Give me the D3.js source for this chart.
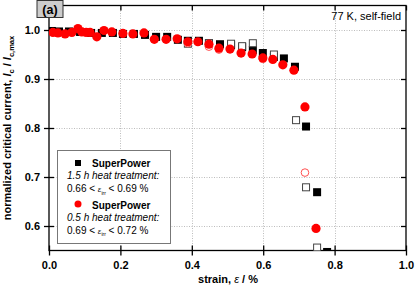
<!DOCTYPE html>
<html><head><meta charset="utf-8">
<script src="https://cdn.jsdelivr.net/npm/d3@7"></script>
<style>body{margin:0;background:#fff}svg{display:block;font-family:"Liberation Sans",Arial,sans-serif}</style>
</head><body>
<script>
// ---- data ----
const xTicks = [0.0, 0.2, 0.4, 0.6, 0.8, 1.0];
const yTicks = [0.6, 0.7, 0.8, 0.9, 1.0];
// 1.5 h heat treatment, filled black squares
const sq1Strain = [0.008,0.028,0.056,0.087,0.118,0.148,0.179,0.207,0.238,0.269,0.300,0.331,0.361,0.389,0.420,0.448,0.479,0.510,0.541,0.571,0.599,0.630,0.658,0.689,0.720,0.751,0.779];
const sq1Ic     = [0.998,0.997,0.997,0.996,0.994,0.994,0.994,0.992,0.992,0.990,0.986,0.986,0.980,0.978,0.978,0.973,0.971,0.969,0.965,0.959,0.953,0.945,0.942,0.925,0.803,0.669,0.547];
// 1.5 h heat treatment, open squares
const sq2Strain = [0.389,0.448,0.510,0.541,0.571,0.630,0.692,0.720,0.751];
const sq2Ic     = [0.972,0.973,0.972,0.967,0.973,0.950,0.816,0.679,0.556];
// 0.5 h heat treatment, filled red circles
const c1Strain = [0.011,0.025,0.045,0.064,0.081,0.092,0.104,0.115,0.134,0.154,0.176,0.207,0.235,0.266,0.295,0.328,0.359,0.389,0.417,0.448,0.476,0.507,0.538,0.569,0.599,0.627,0.655,0.686,0.717,0.748];
const c1Ic     = [0.995,0.994,0.992,0.995,1.003,0.996,0.995,0.995,0.986,0.999,0.996,0.993,0.992,0.994,0.981,0.981,0.982,0.976,0.976,0.971,0.963,0.961,0.953,0.951,0.943,0.940,0.929,0.918,0.843,0.595];
// 0.5 h heat treatment, open red circles
const c2Strain = [0.389,0.448,0.476,0.599,0.717];
const c2Ic     = [0.973,0.966,0.960,0.941,0.709];

const W = 415, H = 290;
const svg = d3.select("body").append("svg").attr("width", W).attr("height", H);
const x = d3.scaleLinear().domain([0, 1]).range([49, 406]);
const y = d3.scaleLinear().domain([0.55, 1.05]).range([250.5, 5.5]);

svg.append("defs").append("clipPath").attr("id","clip")
  .append("rect").attr("x", x(0)).attr("y", y(1.05)).attr("width", x(1)-x(0)).attr("height", y(0.55)-y(1.05));

// grid
const grid = svg.append("g").attr("stroke","#bdbdbd").attr("stroke-width",1).attr("stroke-dasharray","1,1.5");
grid.selectAll(".gx").data(xTicks.filter(d=>d>0&&d<1)).join("line")
  .attr("x1",d=>Math.round(x(d))+0.5).attr("x2",d=>Math.round(x(d))+0.5).attr("y1",y(1.05)).attr("y2",y(0.55));
grid.selectAll(".gy").data(yTicks).join("line")
  .attr("y1",d=>Math.round(y(d))+0.5).attr("y2",d=>Math.round(y(d))+0.5).attr("x1",x(0)).attr("x2",x(1));

// axes
const fmt = d3.format(".1f");
const axB = svg.append("g").attr("transform",`translate(0,${y(0.55)})`)
  .call(d3.axisBottom(x).tickValues(xTicks).tickFormat(fmt).tickSizeInner(5).tickSizeOuter(0).tickPadding(6));
const axL = svg.append("g").attr("transform",`translate(${x(0)},0)`)
  .call(d3.axisLeft(y).tickValues(yTicks).tickFormat(fmt).tickSizeInner(5).tickSizeOuter(0).tickPadding(4));
const axT = svg.append("g").attr("transform",`translate(0,${y(1.05)})`)
  .call(d3.axisBottom(x).tickValues(xTicks).tickFormat("").tickSizeInner(5).tickSizeOuter(0));
const axR = svg.append("g").attr("transform",`translate(${x(1)},0)`)
  .call(d3.axisLeft(y).tickValues(yTicks).tickFormat("").tickSizeInner(5).tickSizeOuter(0));
// inner part of bottom/left ticks
axB.selectAll(".tick line").attr("y1",-5).attr("y2",5);
axL.selectAll(".tick line").attr("x1",-5).attr("x2",5);
[axB,axL,axT,axR].forEach(a=>{
  a.select(".domain").remove();
  a.selectAll(".tick line").attr("stroke","#000").attr("stroke-width",1.3);
  a.selectAll("text").attr("font-size",11).attr("font-weight","bold").attr("fill","#000")
   .attr("font-family",'"Liberation Sans",Arial,sans-serif');
});

// frame
svg.append("rect").attr("x",x(0)).attr("y",y(1.05)).attr("width",x(1)-x(0)).attr("height",y(0.55)-y(1.05))
  .attr("fill","none").attr("stroke","#000").attr("stroke-width",1.3);

// markers
const plot = svg.append("g").attr("clip-path","url(#clip)");
const sq = 8;
plot.selectAll(".s1").data(sq1Strain).join("rect")
  .attr("x",(d)=>x(d)-sq/2).attr("y",(d,i)=>y(sq1Ic[i])-sq/2).attr("width",sq).attr("height",sq).attr("fill","#000");
plot.selectAll(".s2").data(sq2Strain).join("rect")
  .attr("x",(d)=>x(d)-3.5).attr("y",(d,i)=>y(sq2Ic[i])-3.5).attr("width",7).attr("height",7)
  .attr("fill","#fff").attr("stroke","#444").attr("stroke-width",1);
plot.selectAll(".c2").data(c2Strain).join("circle")
  .attr("cx",d=>x(d)).attr("cy",(d,i)=>y(c2Ic[i])).attr("r",3.8)
  .attr("fill","#fff").attr("stroke","#ff5050").attr("stroke-width",1);
plot.selectAll(".c1").data(c1Strain).join("circle")
  .attr("cx",d=>x(d)).attr("cy",(d,i)=>y(c1Ic[i])).attr("r",4.6).attr("fill","#ff0000");

// legend
const lg = svg.append("g");
lg.append("rect").attr("x",57.5).attr("y",150.5).attr("width",113).attr("height",93)
  .attr("fill","#fff").attr("stroke","#777").attr("stroke-width",1);
lg.append("rect").attr("x",75).attr("y",160).attr("width",6).attr("height",6).attr("fill","#000");
lg.append("circle").attr("cx",78).attr("cy",204).attr("r",3.5).attr("fill","#ff0000");
const tx = (x0,y0,txt,opt={}) => lg.append("text").attr("x",x0).attr("y",y0).attr("font-size",10)
  .attr("font-weight",opt.bold?"bold":"normal").attr("font-style",opt.it?"italic":"normal").text(txt);
tx(92,167,"SuperPower",{bold:true});
tx(67,179,"1.5 h heat treatment:",{it:true});
tx(92,208.5,"SuperPower",{bold:true});
tx(67,220.5,"0.5 h heat treatment:",{it:true});
function rangeText(y0, lo, hi){
  const t = lg.append("text").attr("x",67).attr("y",y0).attr("font-size",10);
  t.append("tspan").text(lo+" < ");
  t.append("tspan").attr("font-style","italic").attr("font-size",8).text("ε");
  t.append("tspan").attr("font-size",5).attr("dy",2.5).text("irr");
  t.append("tspan").attr("dy",-2.5).text(" < "+hi+" %");
}
rangeText(192,"0.66","0.69");
rangeText(233.5,"0.69","0.72");

// (a) label
svg.append("rect").attr("x",37).attr("y",0.5).attr("width",26).attr("height",17)
  .attr("fill","#cccccc").attr("stroke","#333").attr("stroke-width",1);
svg.append("text").attr("x",50).attr("y",13.5).attr("text-anchor","middle").attr("font-size",12.5)
  .attr("font-weight","bold").text("(a)");

// condition label
svg.append("text").attr("x",401).attr("y",20).attr("text-anchor","end").attr("font-size",11).text("77 K, self-field");

// x label
const xl = svg.append("text").attr("x",228).attr("y",283).attr("text-anchor","middle")
  .attr("font-size",11).attr("font-weight","bold");
xl.append("tspan").text("strain, ");
xl.append("tspan").attr("font-style","italic").attr("font-weight","normal").text("ε");
xl.append("tspan").text(" / %");

// y label
const yl = svg.append("text").attr("transform","translate(11,128) rotate(-90)").attr("text-anchor","middle")
  .attr("font-size",11).attr("font-weight","bold");
yl.append("tspan").text("normalized critical current, ");
yl.append("tspan").attr("font-style","italic").text("I");
yl.append("tspan").attr("font-size",7.5).attr("dy",2.5).text("c");
yl.append("tspan").attr("dy",-2.5).text(" / ");
yl.append("tspan").attr("font-style","italic").text("I");
yl.append("tspan").attr("font-size",7.5).attr("dy",2.5).text("c,max");
</script>
</body></html>
